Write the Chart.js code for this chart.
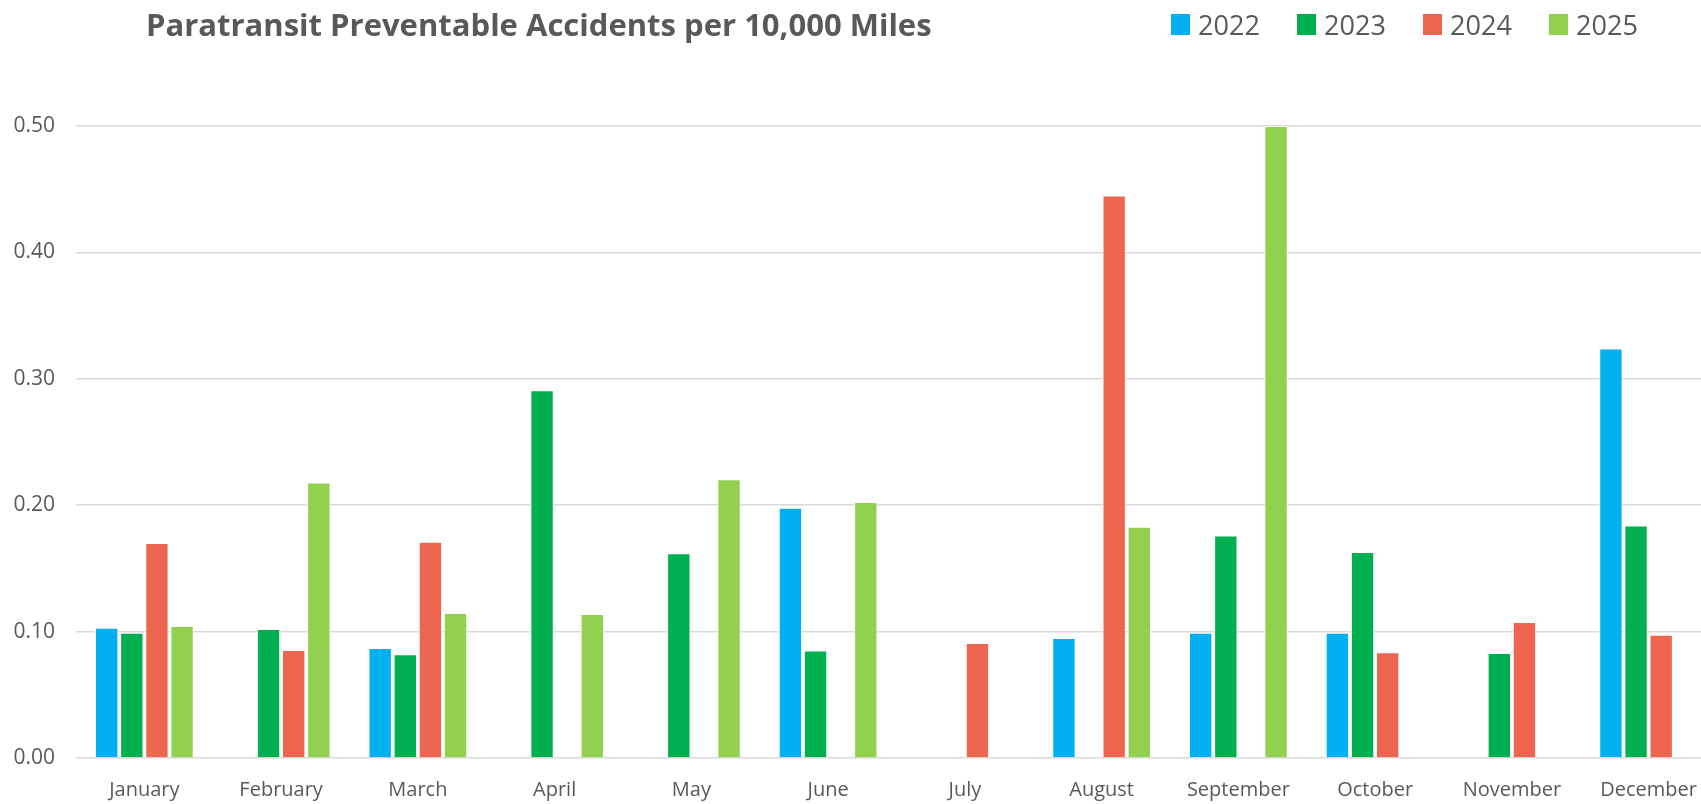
<!DOCTYPE html>
<html>
<head>
<meta charset="utf-8">
<script src="https://cdn.jsdelivr.net/npm/chart.js@4.4.1/dist/chart.umd.min.js"></script>
<style>
  html, body { margin: 0; padding: 0; background: #ffffff; overflow: hidden; }
  #wrap { position: relative; width: 1730px; height: 804px; }
</style>
</head>
<body>
<div id="wrap"><canvas id="c"></canvas></div>
<script>
const titleText = 'Paratransit Preventable Accidents per 10,000 Miles';
const months = ['January','February','March','April','May','June','July','August','September','October','November','December'];
const seriesNames = ['2022','2023','2024','2025'];
const seriesColors = ['#00B0F0','#00B050','#EE6650','#92D050'];
const v2022 = [0.103, null, 0.087, null, null, 0.198, null, 0.095, 0.099, 0.099, null, 0.324];
const v2023 = [0.099, 0.102, 0.082, 0.291, 0.162, 0.085, null, null, 0.176, 0.163, 0.083, 0.184];
const v2024 = [0.170, 0.0855, 0.171, null, null, null, 0.091, 0.445, null, 0.0836, 0.1076, 0.0976];
const v2025 = [0.1045, 0.218, 0.1147, 0.1139, 0.2205, 0.2025, null, 0.183, 0.500, null, null, null];
const yTicks = [0, 0.1, 0.2, 0.3, 0.4, 0.5];

const allValues = [v2022, v2023, v2024, v2025];
const TEXT = '#595959';

const headerPlugin = {
  id: 'header',
  afterDraw(chart) {
    const ctx = chart.ctx;
    ctx.save();
    let ts = 31;
    ctx.font = 'bold ' + ts + 'px "Open Sans", "DejaVu Sans", sans-serif';
    const tw = ctx.measureText(titleText).width;
    ts = ts * 786 / tw;
    ctx.font = 'bold ' + ts.toFixed(2) + 'px "Open Sans", "DejaVu Sans", sans-serif';
    ctx.fillStyle = TEXT;
    ctx.textBaseline = 'alphabetic';
    ctx.textAlign = 'left';
    ctx.fillText(titleText, 146, 36);
    let ls = 28;
    ctx.font = ls + 'px "Open Sans", "DejaVu Sans", sans-serif';
    const lw = ctx.measureText('2022').width;
    ls = ls * 62 / lw;
    ctx.font = ls.toFixed(2) + 'px "Open Sans", "DejaVu Sans", sans-serif';
    chart.data.datasets.forEach((ds, i) => {
      const x = 1171 + i * 126;
      ctx.fillStyle = ds.backgroundColor;
      ctx.fillRect(x, 14, 19, 21);
      ctx.fillStyle = TEXT;
      ctx.fillText(ds.label, x + 27, 35);
    });
    ctx.restore();
  }
};

new Chart(document.getElementById('c'), {
  type: 'bar',
  data: {
    labels: months,
    datasets: seriesNames.map((name, i) => ({
      label: name,
      data: allValues[i],
      backgroundColor: seriesColors[i],
      borderColor: '#ffffff',
      borderWidth: 1,
      categoryPercentage: 0.735,
      barPercentage: 0.93
    }))
  },
  options: {
    responsive: true,
    maintainAspectRatio: false,
    animation: false,
    devicePixelRatio: 1,
    layout: { padding: { top: 126, right: 13, bottom: 0, left: 0 } },
    plugins: {
      legend: { display: false },
      title: { display: false },
      tooltip: { enabled: false }
    },
    scales: {
      x: {
        grid: { display: false, drawTicks: false },
        border: { display: false },
        ticks: {
          color: TEXT,
          font: { family: '"Open Sans", sans-serif', size: 20 },
          padding: 20,
          maxRotation: 0,
          autoSkip: false
        },
        afterFit(scale) { scale.height = 46; }
      },
      y: {
        min: 0,
        max: 0.5,
        afterBuildTicks(scale) { scale.ticks = yTicks.map(v => ({ value: v })); },
        grid: { color: '#D9D9D9', lineWidth: 1.5, drawTicks: false },
        border: { display: false },
        ticks: {
          color: TEXT,
          font: { family: '"Open Sans", sans-serif', size: 21 },
          padding: 21,
          callback: v => Number(v).toFixed(2)
        },
        afterFit(scale) { scale.width = 76; }
      }
    }
  },
  plugins: [headerPlugin]
});
</script>
</body>
</html>
